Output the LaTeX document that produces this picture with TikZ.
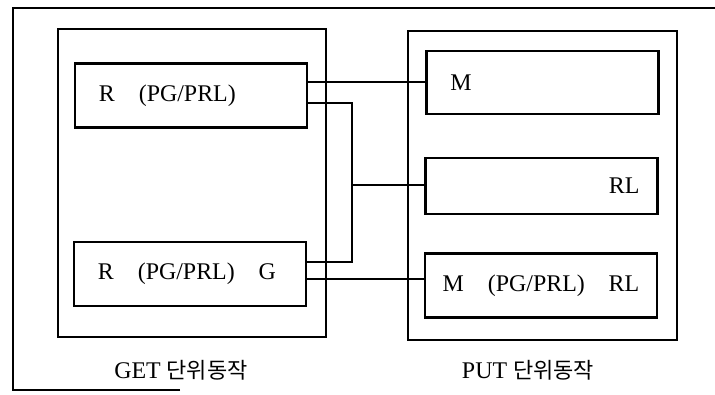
\documentclass[tikz,border=0pt]{standalone}
\usepackage{fontspec}
\setmainfont{Liberation Serif}
\newfontfamily\kr[Scale=0.92]{Noto Sans CJK KR}
\usepackage{tikz}
\usetikzlibrary{calc}

\begin{document}
\begin{tikzpicture}[
  x=0.025cm, y=-0.025cm,
  font=\fontsize{17}{20}\selectfont,
  frame/.style={line width=1.6pt},
  panel/.style={draw, line width=1pt, inner sep=0pt},
  box/.style={draw, line width=1.8pt, inner xsep=0.6cm, inner ysep=0pt,
    text width=4.6cm, minimum height=1.6cm, align=left},
  wire/.style={line width=1.3pt},
  caption/.style={inner sep=0pt}
]
\useasboundingbox (0,0) rectangle (715,394);
\draw[frame] (180,390) -- (13,390) -- (13,8) -- (715,8);

\node[panel, minimum width=6.7cm, minimum height=7.7cm] (get) at (192,183) {};
\node[panel, minimum width=6.725cm, minimum height=7.725cm] (put) at (542.5,185.5) {};

\node[box] (r1) at (191,95.5) {R\quad(PG/PRL)};
\node[box] (r2) at (190,274) {R\quad(PG/PRL)\quad G};

\node[box, minimum height=1.575cm] (m1) at (542.5,82.5) {M};
\node[box, minimum height=1.4cm, align=right, inner xsep=0.45cm,
  text width=4.9cm] (rl) at (541.5,186) {RL};
\node[box, align=center, inner xsep=0.3cm, text width=5.2cm]
  (mp) at (541,285.5) {M\quad(PG/PRL)\quad RL};

\coordinate (bus) at (352,185);
\draw[wire] (r1.east |- 0,82) -- (m1.west |- 0,82);
\draw[wire] (r1.east |- 0,103) -| (bus) |- (r2.east |- 0,262);
\draw[wire] (bus) -- (rl.west |- bus);
\draw[wire] (r2.east |- 0,279) -- (mp.west |- 0,279);

\node[caption] (getlab) at (181,370) {GET {\kr 단위동작}};
\node[caption] (putlab) at (528,370) {PUT {\kr 단위동작}};
\end{tikzpicture}
\end{document}
